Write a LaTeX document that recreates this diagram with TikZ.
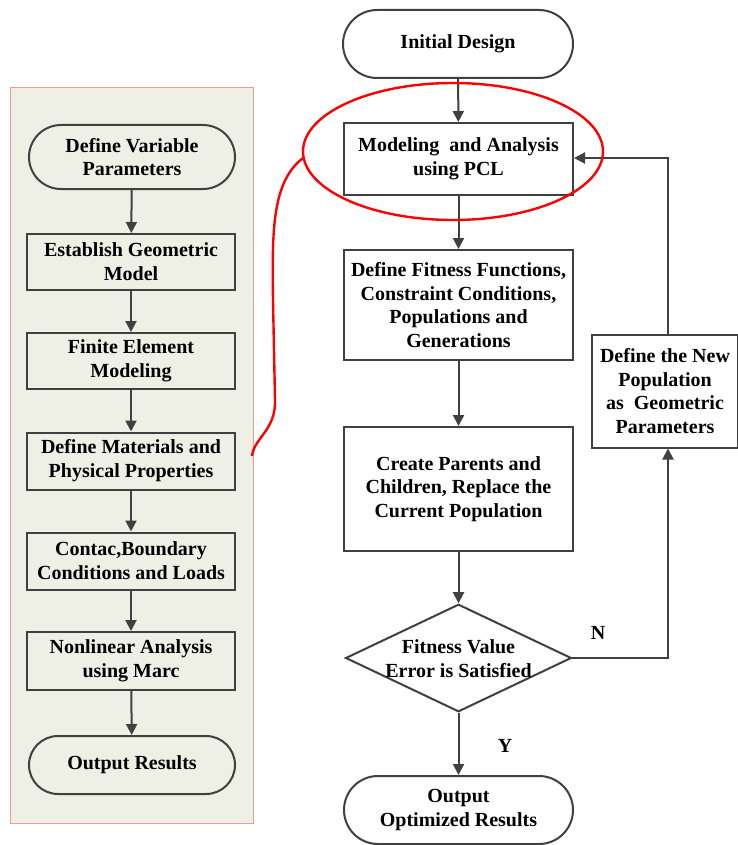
\documentclass[tikz,border=0pt]{standalone}
\usepackage{fontspec}
\setmainfont{Liberation Serif}
\usetikzlibrary{arrows.meta,shapes.geometric}
\definecolor{ln}{HTML}{404040}
\definecolor{panel}{HTML}{EEF0E6}
\definecolor{panelborder}{HTML}{F29A9A}
\tikzset{
  txt/.style={font=\fontsize{20}{23.8}\selectfont\bfseries, align=center},
  boxnode/.style={txt, draw=ln, line width=2pt, inner sep=0pt},
  term/.style={boxnode},
  arr/.style={draw=ln, line width=2pt, -{Triangle[length=11pt,width=11pt]}},
}
\begin{document}
\begin{tikzpicture}[x=1pt,y=-1pt]
\useasboundingbox (0,0) rectangle (737,845);
\fill[white] (0,0) rectangle (737,845);
% left panel
\draw[panelborder, fill=panel, line width=0.8pt] (10,87) rectangle (253,823);
% main column
\node[term, minimum width=230pt, minimum height=68pt, rounded corners=34pt] (init) at (458,44) {Initial Design};
\node[boxnode, minimum width=229pt, minimum height=72pt] (model) at (458.5,159) {Modeling\ \ and Analysis\\using PCL};
\node[boxnode, minimum width=229pt, minimum height=110pt] (fit) at (458.5,305) {Define Fitness Functions,\\Constraint Conditions,\\Populations and\\Generations};
\node[boxnode, minimum width=229pt, minimum height=124pt] (create) at (458.5,489) {Create Parents and\\Children, Replace the\\Current Population};
\node[txt, diamond, draw=ln, line width=2pt, aspect=2.1, inner sep=0pt, minimum width=225pt, minimum height=107pt] (dec) at (458.5,658) {\phantom{Fitness Value}\\\phantom{Error is Satisfied}};
\node[txt] (dectext) at (458.5,659) {Fitness Value\\Error is Satisfied};
\node[term, minimum width=229pt, minimum height=68pt, rounded corners=34pt] (out) at (458.5,810) {Output\\Optimized Results};
\node[boxnode, minimum width=146pt, minimum height=113pt] (newpop) at (665,391) {Define the New\\Population\\as\ \ Geometric\\Parameters};
% left column
\node[term, minimum width=206pt, minimum height=64pt, rounded corners=32pt] (l1) at (132,157) {Define Variable\\Parameters};
\node[boxnode, minimum width=208pt, minimum height=56pt] (l2) at (131,262) {Establish Geometric\\Model};
\node[boxnode, minimum width=208pt, minimum height=56pt] (l3) at (131,361) {Finite Element\\Modeling};
\node[boxnode, minimum width=208pt, minimum height=57pt] (l4) at (131,461) {Define Materials and\\Physical Properties};
\node[boxnode, minimum width=208pt, minimum height=57pt] (l5) at (131,561) {Contac,Boundary\\Conditions and Loads};
\node[boxnode, minimum width=208pt, minimum height=58pt] (l6) at (131,661) {Nonlinear Analysis\\using Marc};
\node[term, minimum width=206pt, minimum height=58pt, rounded corners=29pt] (l7) at (132,765) {Output Results};
% arrows main
\draw[arr] (init) -- (model);
\draw[arr] (model) -- (fit);
\draw[arr] (fit) -- (create);
\draw[arr] (create) -- (dec);
\draw[arr] (dec) -- (out);
\node[txt] (ylab) at (505,746) {Y};
\coordinate (c1) at (668,658);
\draw[arr] (dec.east) -- (c1) -- (c1 |- newpop.south);
\node[txt] (nlab) at (598,633) {N};
\coordinate (c2) at (668,158);
\draw[arr] (c2 |- newpop.north) -- (c2) -- (c2 -| model.east);
% arrows left
\draw[arr] (l1) -- (l2);
\draw[arr] (l2) -- (l3);
\draw[arr] (l3) -- (l4);
\draw[arr] (l4) -- (l5);
\draw[arr] (l5) -- (l6);
\draw[arr] (l6) -- (l7);
% red highlight
\draw[red, line width=2.4pt] (453,151.5) ellipse [x radius=150, y radius=68.5];
\coordinate (e1) at (303,158);
\coordinate (e2) at (252,456);
\draw[red, line width=2.4pt] (e1) .. controls (272,182) and (272,230) .. (273,300) -- (275,400) .. controls (276,430) and (254,438) .. (e2);
\end{tikzpicture}
\end{document}
